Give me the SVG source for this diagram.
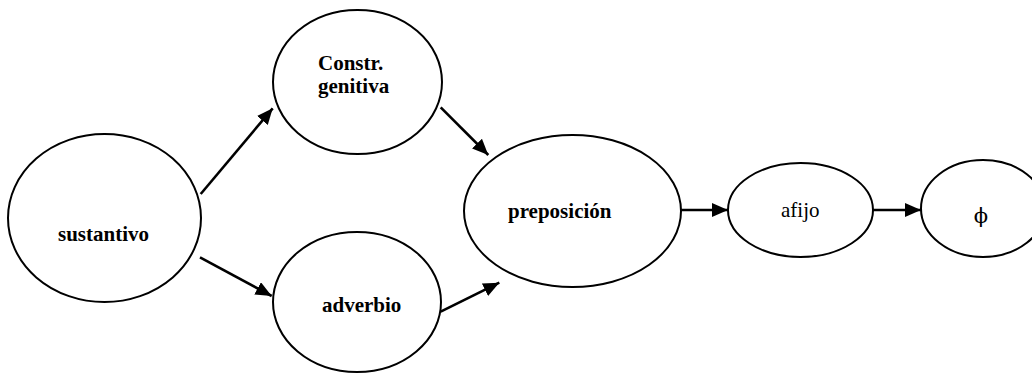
<svg xmlns="http://www.w3.org/2000/svg" width="1032" height="375" viewBox="0 0 1032 375">
<style>
.n ellipse{fill:#fff;stroke:#000;stroke-width:2}
.b{font-family:"Liberation Serif","Times New Roman",serif;font-weight:bold;font-size:21px;fill:#000}
.r{font-family:"Liberation Serif","Times New Roman",serif;font-weight:normal;font-size:21px;fill:#000}
.p{font-family:"DejaVu Serif","Liberation Serif",serif;font-weight:normal;font-size:21px;fill:#000}
.e line{stroke:#000;stroke-width:2.6;marker-end:url(#ah)}
</style>
<defs>
<marker id="ah" markerUnits="userSpaceOnUse" markerWidth="17" markerHeight="15" refX="16" refY="7" orient="auto">
<path d="M0,0 L16,7 L0,14 z" fill="#000"/>
</marker>
</defs>
<rect width="1032" height="375" fill="#fff"/>
<g id="sustantivo" class="n"><ellipse cx="104.5" cy="218" rx="96.5" ry="84"/><text class="b" x="58" y="241">sustantivo</text></g>
<g id="genitiva" class="n"><ellipse cx="357.5" cy="82" rx="84.5" ry="72"/><text class="b" x="318" y="70">Constr.</text><text class="b" x="318" y="93">genitiva</text></g>
<g id="adverbio" class="n"><ellipse cx="357" cy="302" rx="84" ry="70"/><text class="b" x="322" y="312">adverbio</text></g>
<g id="preposicion" class="n"><ellipse cx="572.5" cy="211" rx="108.5" ry="76"/><text class="b" x="508" y="218">preposición</text></g>
<g id="afijo" class="n"><ellipse cx="800.5" cy="210" rx="72.5" ry="47"/><text class="r" x="781" y="217">afijo</text></g>
<g id="phi" class="n"><ellipse cx="983" cy="208.5" rx="62" ry="48.5"/><text class="p" x="981" y="223" text-anchor="middle">ϕ</text></g>
<g id="connectors" class="e">
<line x1="200.7" y1="194" x2="272.7" y2="108.3"/>
<line x1="200" y1="257.3" x2="271.7" y2="296"/>
<line x1="440.7" y1="107.3" x2="488.3" y2="155"/>
<line x1="440.7" y1="311.7" x2="499.3" y2="282.7"/>
<line x1="681" y1="210" x2="728" y2="210"/>
<line x1="873" y1="210" x2="921" y2="210"/>
</g>
</svg>
